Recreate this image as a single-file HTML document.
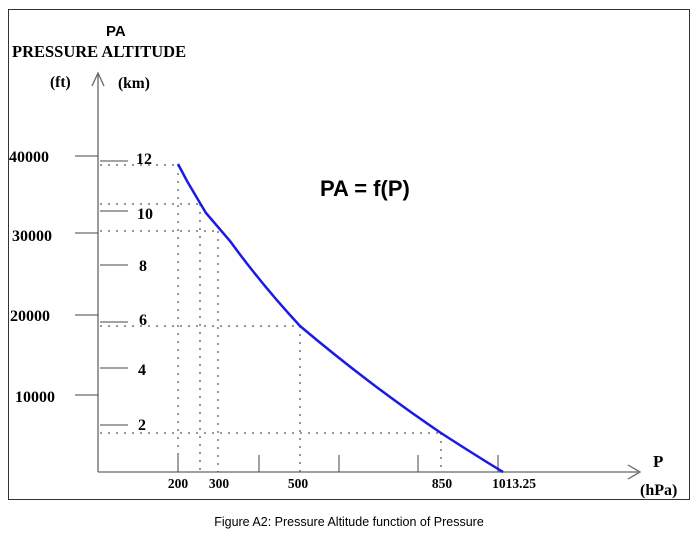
<!DOCTYPE html>
<html><head><style>
body{margin:0;background:#fff;}
svg text{font-family:"Liberation Serif",serif;font-weight:bold;}
</style></head><body>
<svg width="698" height="534" xmlns="http://www.w3.org/2000/svg">
<rect x="8.5" y="9.5" width="681" height="490" fill="none" stroke="#333" stroke-width="1"/>
<g stroke="#666" stroke-width="1.3" fill="none">
<line x1="98" y1="472" x2="98" y2="73"/>
<polyline points="92,86 98,73 104,86"/>
<line x1="98" y1="472" x2="638" y2="472"/>
<polyline points="628,465 640,472 628,479"/>
</g>
<g stroke="#444" stroke-width="1">
<line x1="75" y1="156" x2="98" y2="156"/>
<line x1="75" y1="233" x2="98" y2="233"/>
<line x1="75" y1="315" x2="98" y2="315"/>
<line x1="75" y1="395" x2="98" y2="395"/>
<line x1="100" y1="161" x2="128" y2="161"/>
<line x1="100" y1="211" x2="128" y2="211"/>
<line x1="100" y1="265" x2="128" y2="265"/>
<line x1="100" y1="322" x2="128" y2="322"/>
<line x1="100" y1="368" x2="128" y2="368"/>
<line x1="100" y1="425" x2="128" y2="425"/>
<line x1="178" y1="455" x2="178" y2="472"/>
<line x1="259" y1="455" x2="259" y2="472"/>
<line x1="339" y1="455" x2="339" y2="472"/>
<line x1="418" y1="455" x2="418" y2="472"/>
<line x1="498" y1="455" x2="498" y2="472"/>
</g>
<g stroke="#333" stroke-width="1" stroke-dasharray="2,6">
<line x1="100" y1="165" x2="178" y2="165"/>
<line x1="100" y1="204" x2="200" y2="204"/>
<line x1="100" y1="231" x2="218" y2="231"/>
<line x1="100" y1="326" x2="300" y2="326"/>
<line x1="100" y1="433" x2="441" y2="433"/>
<line x1="178" y1="165" x2="178" y2="472"/>
<line x1="200" y1="204" x2="200" y2="472"/>
<line x1="218" y1="231" x2="218" y2="472"/>
<line x1="300" y1="326" x2="300" y2="472"/>
<line x1="441" y1="433" x2="441" y2="472"/>
</g>
<path d="M178,164 L187,181 L200,203 L206,213 L230,241 Q262,285 300,326 Q370,385 441,433 Q475,455 503,472" fill="none" stroke="#1a1ae6" stroke-width="2.5"/>
<text x="106" y="36" font-size="15" style="font-family:'Liberation Sans',sans-serif">PA</text>
<text x="12" y="57" font-size="16.5">PRESSURE ALTITUDE</text>
<text x="50" y="87" font-size="15.5">(ft)</text>
<text x="118" y="88" font-size="15.5">(km)</text>
<g font-size="16">
<text x="9" y="162">40000</text>
<text x="12" y="241">30000</text>
<text x="10" y="321">20000</text>
<text x="15" y="402">10000</text>
<text x="136" y="164">12</text>
<text x="137" y="219">10</text>
<text x="139" y="271">8</text>
<text x="139" y="325">6</text>
<text x="138" y="375">4</text>
<text x="138" y="430">2</text>
</g>
<g font-size="13.5" text-anchor="middle">
<text x="178" y="488">200</text>
<text x="219" y="488">300</text>
<text x="298" y="488">500</text>
<text x="442" y="488">850</text>
<text x="514" y="488">1013.25</text>
</g>
<text x="653" y="467" font-size="17">P</text>
<text x="640" y="495" font-size="16">(hPa)</text>
<text x="320" y="196" font-size="22" style="font-family:'Liberation Sans',sans-serif">PA = f(P)</text>
<text x="349" y="526" font-size="12.5" text-anchor="middle" style="font-family:'Liberation Sans',sans-serif;font-weight:normal">Figure A2: Pressure Altitude function of Pressure</text>
</svg>
</body></html>
